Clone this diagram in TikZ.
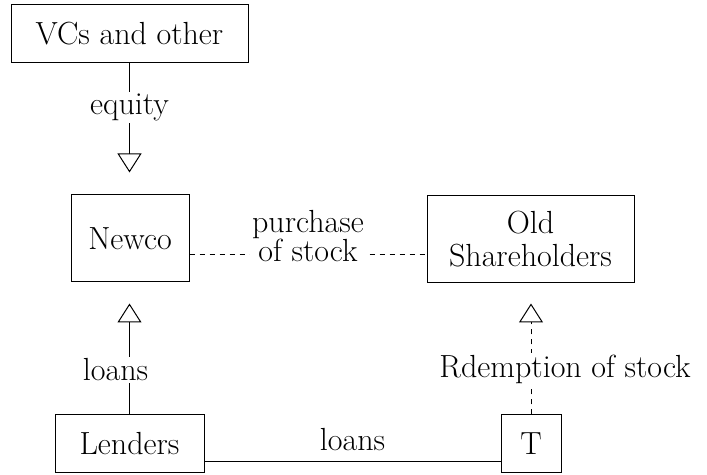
\documentclass[tikz,border=0pt]{standalone}
\usetikzlibrary{arrows.meta}
\begin{document}
\begin{tikzpicture}[x=0.5pt,y=-0.5pt,
  font=\fontsize{16}{19}\selectfont,
  box/.style={draw, line width=0.5pt, inner sep=0pt, align=center},
  opentip/.style={-{Triangle[open,length=9.5pt,width=12pt,line width=0.5pt]}},
  flow/.style={line width=0.5pt, opentip},
  dashline/.style={line width=0.5pt, dash pattern=on 2.5pt off 2.5pt},
  gaplabel/.style={fill=white, inner sep=1pt, align=center}]
\useasboundingbox (0,0) rectangle (707,475);

% parties
\node[box, minimum width=118.5pt, minimum height=29pt] (vc) at (129.5,34) {VCs and other};
\node[box, minimum width=59pt, minimum height=43.5pt] (newco) at (130,238.5) {Newco};
\node[box, minimum width=103.5pt, minimum height=43.5pt,
      font=\fontsize{16}{16.5}\selectfont] (old) at (530.5,239.5) {Old\\Shareholders};
\node[box, minimum width=74.5pt, minimum height=29pt] (lenders) at (129.5,444) {Lenders};
\node[box, minimum width=30pt, minimum height=29pt] (t) at (531,444) {T};

% equity into Newco
\draw[flow, shorten >=11pt] (vc.south) -- (vc.south |- newco.north)
  node[gaplabel, pos=0.333] {equity};

% loans from the lenders to Newco
\draw[flow, shorten >=10.5pt] (lenders.north) -- (lenders.north |- newco.south)
  node[gaplabel, pos=0.338, xshift=-7pt] {loans};

% redemption of stock from T to the old shareholders
\draw[dashline, opentip, shorten >=10pt] (t.north) -- (t.north |- old.south)
  node[gaplabel, pos=0.341, xshift=17pt] {Rdemption of stock};

% purchase of stock between Newco and the old shareholders
\coordinate (pl) at ([yshift=-8.25pt]newco.east);
\coordinate (pr) at (pl -| old.west);
\draw[dashline] (pl) -- (pr)
  node[gaplabel, pos=0.5, yshift=9.3pt, font=\fontsize{16}{14.5}\selectfont] {purchase\\of stock};

% loans from the lenders to T
\coordinate (ll) at ([yshift=-9pt]lenders.east);
\coordinate (lr) at (ll -| t.west);
\draw[line width=0.5pt] (ll) -- (lr) node[pos=0.5, yshift=11pt] {loans};
\end{tikzpicture}
\end{document}
